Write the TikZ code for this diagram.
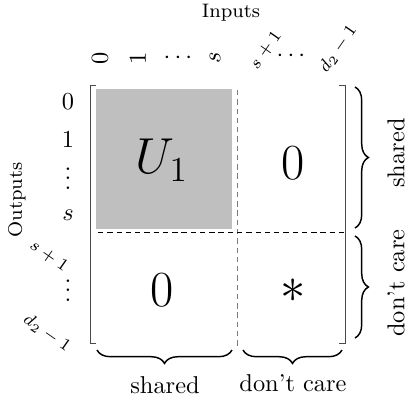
\documentclass[tikz,border=0pt]{standalone}
\usepackage{amsmath,amssymb}
\usetikzlibrary{decorations.pathreplacing,calc}
\definecolor{Block}{HTML}{BFBFBF}
\definecolor{Rule}{HTML}{4A4A4A}
\definecolor{Split}{HTML}{7A7A7A}
\tikzset{
  blk/.style={font=\huge,inner sep=0pt},
  idx/.style={font=\normalsize,inner sep=1pt},
  vdot/.style={idx,inner sep=0pt,text height=9.5pt,text depth=0pt},
  tidx/.style={font=\scriptsize,inner sep=0pt},
  axis/.style={font=\footnotesize,inner sep=1pt},
  part/.style={dashed,line width=.4pt,dash pattern=on 2.2pt off 1.6pt},
  brk/.style={line width=.4pt,draw=Rule},
  brc/.style={decorate,decoration={brace,amplitude=5.5pt},line width=.6pt},
  lab/.style={font=\normalsize,inner sep=0pt}
}

\begin{document}
\begin{tikzpicture}[x=0.41pt,y=-0.41pt]
    \useasboundingbox (0,0) rectangle (406,399);
    % shaded block
    \fill[Block] (96,89) rectangle (232,229);
    % brackets
    \coordinate (lt) at (90,85); \coordinate (lb) at (90,343);
    \coordinate (rt) at (345,85); \coordinate (rb) at (345,343);
    \draw[brk] ($(lt)+(6,0)$) -- (lt) -- (lb) -- ($(lb)+(6,0)$);
    \draw[brk] ($(rt)+(-6,0)$) -- (rt) -- (rb) -- ($(rb)+(-6,0)$);
    % partition lines
    \coordinate (vt) at (237,90); \coordinate (vb) at (237,346);
    \coordinate (hl) at (98,232); \coordinate (hr) at (345,232);
    \draw[part,draw=Split] (vt) -- (vb);
    \draw[part] (hl) -- (hr);
    % blocks
    \node[blk] (u1) at (162,160) {$U_1$};
    \node[blk] (z1) at (293,163) {$0$};
    \node[blk] (z2) at (162,290) {$0$};
    \node[blk] (st) at (293,291) {$\ast$};
    % column indices
    \node[axis] (inp) at (231,13) {Inputs};
    \node[idx,rotate=90] (c0) at (100,58) {$0$};
    \node[idx,rotate=90] (c1) at (138,58) {$1$};
    \node[idx] (cd) at (180,58) {$\cdots$};
    \node[idx,rotate=90] (cs) at (215,58) {$s$};
    \node[tidx,rotate=55] (cs1) at (266,50) {$s+1$};
    \node[idx] (cd2) at (293,56) {$\cdots$};
    \node[tidx,rotate=55] (cd3) at (338,49) {$d_2-1$};
    % row indices
    \node[axis,rotate=90] (out) at (17,200) {Outputs};
    \node[idx] (r0) at (68,102) {$0$};
    \node[idx] (r1) at (68,140) {$1$};
    \node[vdot] (rd) at (68,178) {$\vdots$};
    \node[idx] (rs) at (68,215) {$s$};
    \node[tidx,rotate=-35] (rs1) at (49,256) {$s+1$};
    \node[vdot] (rd2) at (68,290) {$\vdots$};
    \node[tidx,rotate=-35] (rd3) at (47,333) {$d_2-1$};
    % braces right
    \coordinate (b1) at (355,87); \coordinate (b2) at (355,228);
    \coordinate (b3) at (355,236); \coordinate (b4) at (355,338);
    \draw[brc] (b1) -- (b2);
    \draw[brc] (b3) -- (b4);
    \node[lab,rotate=90] (sh1) at (396,153) {shared};
    \node[lab,rotate=90] (dc1) at (396,283) {don't care};
    % braces bottom
    \coordinate (b5) at (97,350); \coordinate (b6) at (232,350);
    \coordinate (b7) at (243,350); \coordinate (b8) at (342,350);
    \draw[brc,decoration={mirror}] (b5) -- (b6);
    \draw[brc,decoration={mirror}] (b7) -- (b8);
    \node[lab] (sh2) at (165,385) {shared};
    \node[lab] (dc2) at (293,383) {don't care};
\end{tikzpicture}
\end{document}
